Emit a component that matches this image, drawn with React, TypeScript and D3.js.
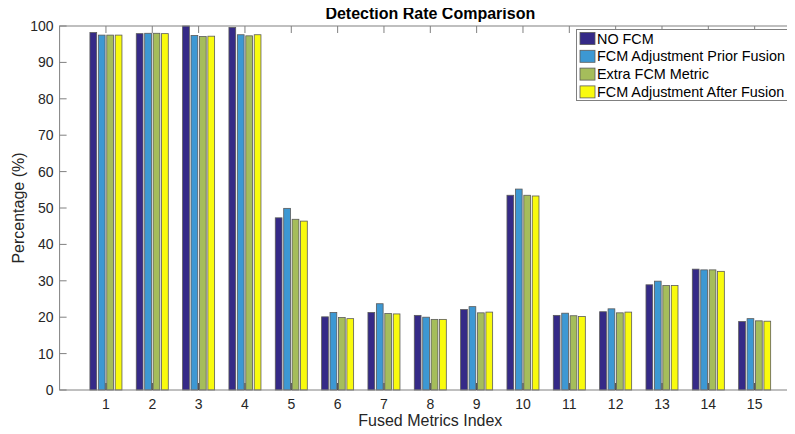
import React, { useEffect, useRef } from 'react';
import * as d3 from 'd3';

const categories = ['1', '2', '3', '4', '5', '6', '7', '8', '9', '10', '11', '12', '13', '14', '15'];
const seriesNames = ['NO FCM', 'FCM Adjustment Prior Fusion', 'Extra FCM Metric', 'FCM Adjustment After Fusion'];
const seriesColors = ['#352a87', '#3d98d3', '#a5bd5b', '#f9fb0e'];

const noFcm = [98.2, 97.9, 100, 99.6, 47.3, 20.1, 21.3, 20.5, 22.1, 53.5, 20.5, 21.5, 28.9, 33.2, 18.8];
const priorFusion = [97.5, 98.0, 97.4, 97.6, 49.9, 21.3, 23.7, 20.0, 22.9, 55.2, 21.1, 22.3, 29.9, 33.0, 19.6];
const extraMetric = [97.5, 98.0, 97.1, 97.3, 46.9, 19.9, 21.0, 19.4, 21.2, 53.5, 20.4, 21.2, 28.7, 33.0, 19.0];
const afterFusion = [97.5, 97.9, 97.2, 97.6, 46.4, 19.6, 20.9, 19.4, 21.4, 53.3, 20.2, 21.4, 28.7, 32.6, 18.9];

const yTicks = [0, 10, 20, 30, 40, 50, 60, 70, 80, 90, 100];

const App = () => {
  const svgRef = useRef<SVGSVGElement>(null);

  useEffect(() => {
    const svg = d3.select(svgRef.current);
    svg.selectAll('*').remove();

    const width = 795;
    const height = 434;
    const margin = { top: 26, right: -6, bottom: 44, left: 59.6 };
    const font = 'Liberation Sans, Arial, Helvetica, sans-serif';
    const textColor = '#262626';
    const axisColor = '#808080';

    svg.attr('width', width).attr('height', height);

    const x = d3.scaleLinear().domain([0, 16]).range([margin.left, width - margin.right]);
    const y = d3.scaleLinear().domain([0, 100]).range([height - margin.bottom, margin.top]);

    const series = [noFcm, priorFusion, extraMetric, afterFusion];
    const groupWidth = Math.min(0.8, 4 / (4 + 1.5));
    const slot = groupWidth / 4;
    const barW = slot * 0.8;

    // bars
    series.forEach((vals, s) => {
      svg.append('g')
        .selectAll('rect')
        .data(vals)
        .enter()
        .append('rect')
        .attr('x', (d, i) => x(i + 1 - groupWidth / 2 + slot * s + (slot - barW) / 2))
        .attr('y', d => y(d))
        .attr('width', x(barW) - x(0))
        .attr('height', d => y(0) - y(d))
        .style('fill', seriesColors[s])
        .style('stroke', '#5a5a5a')
        .style('stroke-width', 0.8);
    });

    // axes box
    const x0 = x(0), x1 = x(16), yb = y(0), yt = y(100);
    svg.append('rect')
      .attr('x', x0).attr('y', yt)
      .attr('width', x1 - x0).attr('height', yb - yt)
      .style('fill', 'none').style('stroke', axisColor).style('stroke-width', 1);

    const tickLen = 7;
    const ticks = svg.append('g');
    categories.forEach((c, i) => {
      const px = x(i + 1);
      ticks.append('line').attr('x1', px).attr('x2', px).attr('y1', yb).attr('y2', yb - tickLen)
        .style('stroke', '#404040').style('stroke-width', 1);
      ticks.append('line').attr('x1', px).attr('x2', px).attr('y1', yt).attr('y2', yt + tickLen)
        .style('stroke', axisColor).style('stroke-width', 1);
      svg.append('text')
        .attr('x', px).attr('y', yb + 18.5)
        .attr('text-anchor', 'middle')
        .style('font-family', font).style('font-size', '14px').style('fill', textColor)
        .text(c);
    });
    yTicks.forEach(t => {
      const py = y(t);
      ticks.append('line').attr('x1', x0).attr('x2', x0 + tickLen).attr('y1', py).attr('y2', py)
        .style('stroke', axisColor).style('stroke-width', 1);
      ticks.append('line').attr('x1', x1).attr('x2', x1 - tickLen).attr('y1', py).attr('y2', py)
        .style('stroke', axisColor).style('stroke-width', 1);
      svg.append('text')
        .attr('x', x0 - 6).attr('y', py + 5)
        .attr('text-anchor', 'end')
        .style('font-family', font).style('font-size', '14px').style('fill', textColor)
        .text(t);
    });

    // title and labels
    svg.append('text')
      .attr('x', (x0 + x1) / 2).attr('y', 19)
      .attr('text-anchor', 'middle')
      .style('font-family', font).style('font-size', '16px').style('font-weight', 'bold').style('fill', '#000')
      .text('Detection Rate Comparison');

    svg.append('text')
      .attr('x', (x0 + x1) / 2).attr('y', 425.5)
      .attr('text-anchor', 'middle')
      .style('font-family', font).style('font-size', '16px').style('fill', textColor)
      .text('Fused Metrics Index');

    svg.append('text')
      .attr('transform', `translate(24,${(yt + yb) / 2}) rotate(-90)`)
      .attr('text-anchor', 'middle')
      .style('font-family', font).style('font-size', '16px').style('fill', textColor)
      .text('Percentage (%)');

    // legend
    const lg = svg.append('g');
    lg.append('rect')
      .attr('x', 576.5).attr('y', 29.5).attr('width', 230).attr('height', 71)
      .style('fill', '#fff').style('stroke', axisColor).style('stroke-width', 1);
    seriesNames.forEach((name, i) => {
      const cy = 38.5 + i * 17.8;
      lg.append('rect')
        .attr('x', 580).attr('y', cy - 6).attr('width', 15).attr('height', 12)
        .style('fill', seriesColors[i]).style('stroke', '#5a5a5a').style('stroke-width', 0.8);
      lg.append('text')
        .attr('x', 597).attr('y', cy + 5)
        .style('font-family', font).style('font-size', '14.4px').style('fill', '#000')
        .text(name);
    });
  }, []);

  return (
    <div style={{ margin: -8 }}>
      <svg ref={svgRef} style={{ display: 'block' }}></svg>
    </div>
  );
};

export default App;
